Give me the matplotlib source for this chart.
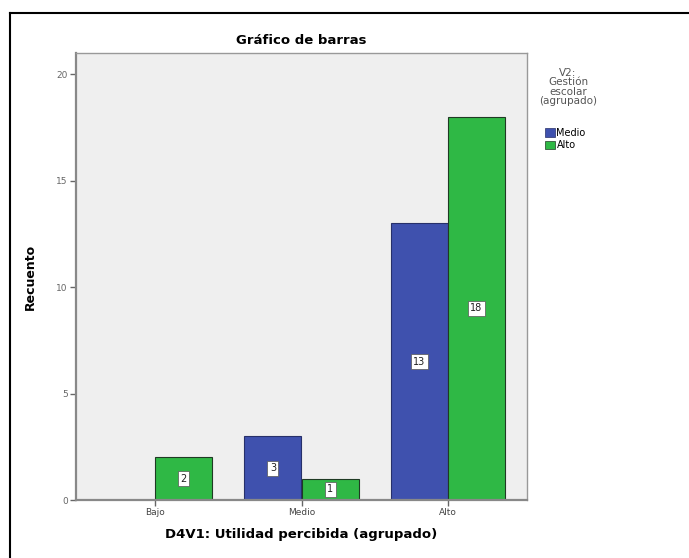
import matplotlib
matplotlib.use("Agg")
import matplotlib.pyplot as plt
from matplotlib.patches import Patch
from matplotlib.lines import Line2D
import numpy as np

# ------------------ Data ------------------
categories = ["Bajo", "Medio", "Alto"]
series_names = ["Medio", "Alto"]
medio_counts = [0, 3, 13]
alto_counts = [2, 1, 18]
y_ticks = [0, 5, 10, 15, 20]

blue = "#3f51ae"
green = "#2fb845"

fig = plt.figure(figsize=(6.89, 5.58), dpi=100)
W, H = 689, 558
ax = fig.add_axes([76 / W, 1 - 500 / H, (527 - 76) / W, (500 - 53) / H])
ax.set_facecolor("#efefef")

x = np.arange(len(categories))
w = 0.39
for vals, off, col in [(medio_counts, -w / 2, blue), (alto_counts, w / 2, green)]:
    for xi, v in zip(x, vals):
        if v <= 0:
            continue
        ax.bar(xi + off, v, width=w, color=col, edgecolor="#1f3a24" if col == green else "#27306a",
               linewidth=0.8, zorder=2)
        ax.text(xi + off, v / 2, str(v), ha="center", va="center", fontsize=7,
                color="#222222", zorder=3,
                bbox=dict(boxstyle="square,pad=0.25", facecolor="white", edgecolor="#555555", linewidth=0.5))

ax.set_xlim(-0.54, 2.54)
ax.set_ylim(0, 21)
ax.set_xticks(x)
ax.set_xticklabels(categories, fontsize=6.5, color="#444444")
ax.set_yticks(y_ticks)
ax.set_yticklabels([str(t) for t in y_ticks], fontsize=6.5, color="#666666")
ax.tick_params(axis="both", length=4, width=1, color="#666666", pad=2)

for side in ["top", "right"]:
    ax.spines[side].set_color("#999999")
    ax.spines[side].set_linewidth(1.0)
for side in ["left", "bottom"]:
    ax.spines[side].set_color("#888888")
    ax.spines[side].set_linewidth(1.6)

ax.set_ylabel("Recuento", fontsize=9, fontweight="bold", labelpad=14)
ax.set_xlabel("D4V1: Utilidad percibida (agrupado)", fontsize=9.5, fontweight="bold", labelpad=8)
fig.text(301 / W, 1 - 40 / H, "Gráfico de barras", ha="center", va="center",
         fontsize=9.5, fontweight="bold")

# legend
fig.text(568 / W, 1 - 87 / H, "V2:\nGestión\nescolar\n(agrupado)", ha="center", va="center",
         fontsize=7.5, color="#555555", linespacing=0.95)
handles = [Patch(facecolor=blue, edgecolor="#27306a", linewidth=0.5),
           Patch(facecolor=green, edgecolor="#1f3a24", linewidth=0.5)]
fig.legend(handles, series_names, loc="upper left", bbox_to_anchor=(538 / W, 1 - 121 / H),
           frameon=False, fontsize=7, handlelength=1.0, handleheight=1.0,
           handletextpad=0.2, labelspacing=0.25, borderpad=0.2)

# outer frame (left and top edges visible)
fig.add_artist(Line2D([10 / W, 10 / W], [0, 1 - 13 / H], color="black", linewidth=1.5))
fig.add_artist(Line2D([10 / W, 1], [1 - 13 / H, 1 - 13 / H], color="black", linewidth=1.5))

fig.savefig("out.png", dpi=100)
plt.close(fig)
